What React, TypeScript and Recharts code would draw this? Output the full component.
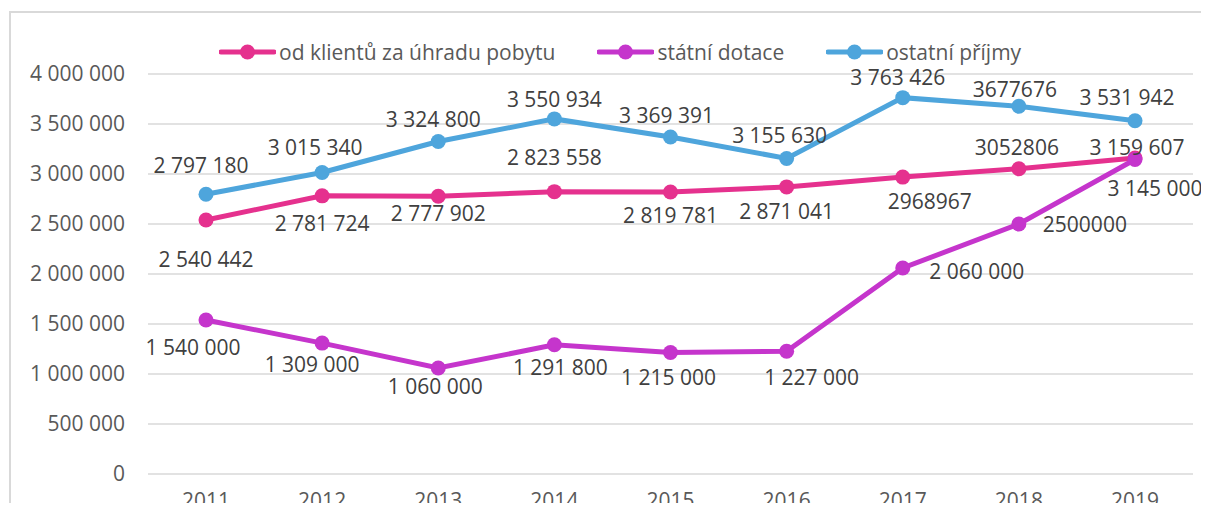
import React from "react";
import {
  LineChart,
  Line,
  XAxis,
  YAxis,
  CartesianGrid,
  Legend,
} from "recharts";

const years = ["2011", "2012", "2013", "2014", "2015", "2016", "2017", "2018", "2019"];

const klienti = [2540442, 2781724, 2777902, 2823558, 2819781, 2871041, 2968967, 3052806, 3159607];
const dotace = [1540000, 1309000, 1060000, 1291800, 1215000, 1227000, 2060000, 2500000, 3145000];
const ostatni = [2797180, 3015340, 3324800, 3550934, 3369391, 3155630, 3763426, 3677676, 3531942];

// labels as printed in the source (some without thousand separators)
const klientiLabels = ["2 540 442", "2 781 724", "2 777 902", "2 823 558", "2 819 781", "2 871 041", "2968967", "3052806", "3 159 607"];
const dotaceLabels = ["1 540 000", "1 309 000", "1 060 000", "1 291 800", "1 215 000", "1 227 000", "2 060 000", "2500000", "3 145 000"];
const ostatniLabels = ["2 797 180", "3 015 340", "3 324 800", "3 550 934", "3 369 391", "3 155 630", "3 763 426", "3677676", "3 531 942"];

const yTicks = [0, 500000, 1000000, 1500000, 2000000, 2500000, 3000000, 3500000, 4000000];

// label placement relative to each point [dx, dy]
const klientiOffsets = [[0, 40], [0, 28], [0, 17], [0, -34], [0, 24], [0, 25], [27, 25], [-2, -21], [2, -10]];
const dotaceOffsets = [[-13, 28], [-10, 22], [-3, 19], [6, 23], [-2, 25], [25, 26], [74, 4], [66, 1], [20, 29]];
const ostatniOffsets = [[-5, -29], [-7, -25], [-5, -22], [0, -19], [-4, -21], [-7, -23], [-5, -20], [-4, -17], [-8, -23]];

const PINK = "#E5318E";
const PURPLE = "#C535CC";
const BLUE = "#4EA5DC";
const FONT = "'Open Sans', sans-serif";

const data = years.map((year, i) => ({
  year,
  klienti: klienti[i],
  dotace: dotace[i],
  ostatni: ostatni[i],
}));

const fmt = (n: number) => n.toString().replace(/\B(?=(\d{3})+(?!\d))/g, " ");

const makeLabel = (texts: string[], offsets: number[][]) => (props: any) => {
  const { x, y, index } = props;
  const [dx, dy] = offsets[index];
  return (
    <text
      x={x + dx}
      y={y + dy}
      dy="0.35em"
      textAnchor="middle"
      fill="#404040"
      fontSize={21}
      fontFamily={FONT}
    >
      {texts[index]}
    </text>
  );
};

const legendItems = [
  { name: "od klientů za úhradu pobytu", color: PINK },
  { name: "státní dotace", color: PURPLE },
  { name: "ostatní příjmy", color: BLUE },
];

const renderLegend = () => (
  <div style={{ display: "flex", alignItems: "center", height: 28 }}>
    {legendItems.map((item, i) => (
      <div key={i} style={{ display: "flex", alignItems: "center", marginRight: 42 }}>
        <svg width={57} height={20}>
          <line x1={2} y1={10} x2={55} y2={10} stroke={item.color} strokeWidth={5} strokeLinecap="round" />
          <circle cx={28.5} cy={10} r={7.5} fill={item.color} />
        </svg>
        <span style={{ marginLeft: 3, fontSize: 21, color: "#595959", fontFamily: FONT, whiteSpace: "nowrap" }}>
          {item.name}
        </span>
      </div>
    ))}
  </div>
);

export default function App() {
  return (
    <div style={{ position: "relative", width: 1201, height: 495, overflow: "hidden", fontFamily: FONT }}>
      {/* chart frame: only the top and left edges fall inside the picture */}
      <div
        style={{
          position: "absolute",
          left: 1,
          top: 3,
          width: 1250,
          height: 550,
          borderTop: "2px solid #d9d9d9",
          borderLeft: "2px solid #d9d9d9",
        }}
      />
      <LineChart
        width={1201}
        height={540}
        data={data}
        margin={{ top: 66, right: 16, left: 0, bottom: 44 }}
      >
        <CartesianGrid vertical={false} stroke="#d9d9d9" strokeWidth={1.3} />
        <XAxis
          dataKey="year"
          axisLine={false}
          tickLine={false}
          height={30}
          tickMargin={13}
          padding={{ left: 58, right: 58 }}
          tick={{ fill: "#595959", fontSize: 21, fontFamily: FONT }}
        />
        <YAxis
          domain={[0, 4000000]}
          ticks={yTicks}
          width={140}
          axisLine={false}
          tickLine={false}
          tickMargin={17}
          tickFormatter={fmt}
          tick={{ fill: "#595959", fontSize: 21, fontFamily: FONT }}
        />
        <Legend
          verticalAlign="middle"
          content={renderLegend}
          wrapperStyle={{ top: 30, left: 211, width: "auto" }}
        />
        <Line
          dataKey="klienti"
          name="od klientů za úhradu pobytu"
          stroke={PINK}
          strokeWidth={5}
          dot={{ r: 7.5, fill: PINK, stroke: PINK, strokeWidth: 0 }}
          activeDot={false}
          isAnimationActive={false}
          label={makeLabel(klientiLabels, klientiOffsets)}
        />
        <Line
          dataKey="dotace"
          name="státní dotace"
          stroke={PURPLE}
          strokeWidth={5}
          dot={{ r: 7.5, fill: PURPLE, stroke: PURPLE, strokeWidth: 0 }}
          activeDot={false}
          isAnimationActive={false}
          label={makeLabel(dotaceLabels, dotaceOffsets)}
        />
        <Line
          dataKey="ostatni"
          name="ostatní příjmy"
          stroke={BLUE}
          strokeWidth={5}
          dot={{ r: 7.5, fill: BLUE, stroke: BLUE, strokeWidth: 0 }}
          activeDot={false}
          isAnimationActive={false}
          label={makeLabel(ostatniLabels, ostatniOffsets)}
        />
      </LineChart>
    </div>
  );
}
